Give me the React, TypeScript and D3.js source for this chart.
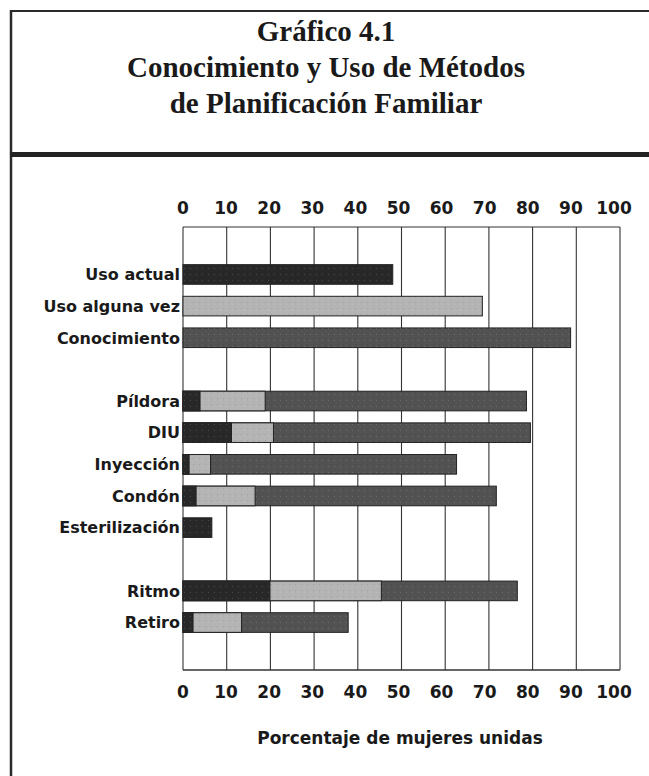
import React from "react";
import * as d3 from "d3";

const categories = [
  "_top",
  "Uso actual",
  "Uso alguna vez",
  "Conocimiento",
  "_gap1",
  "Píldora",
  "DIU",
  "Inyección",
  "Condón",
  "Esterilización",
  "_gap2",
  "Ritmo",
  "Retiro",
  "_bottom",
];

// values per category (null = no bar)
const knowledge: (number | null)[] = [null, null, null, 88.7, null, 78.6, 79.5, 62.6, 71.7, null, null, 76.5, 37.8, null];
const everUse: (number | null)[] = [null, null, 68.5, null, null, 18.8, 20.7, 6.3, 16.5, null, null, 45.4, 13.4, null];
const currentUse: (number | null)[] = [null, 48.0, null, null, null, 3.9, 11.1, 1.4, 3.0, 6.6, null, 19.9, 2.3, null];

const xTicks = [0, 10, 20, 30, 40, 50, 60, 70, 80, 90, 100];
const titleLines = ["Gráfico 4.1", "Conocimiento y Uso de Métodos", "de Planificación Familiar"];
const axisTitle = "Porcentaje de mujeres unidas";

const W = 649;
const H = 776;
const left = 183;
const right = 620;
const top = 227;
const bottom = 670;

const colors = {
  knowledge: "#525252",
  ever: "#b4b4b4",
  current: "#282828",
};

export default function App() {
  const x = d3.scaleLinear().domain([0, 100]).range([left, right]);
  // tick labels in the original sit slightly inside the right end
  const xLab = d3.scaleLinear().domain([0, 100]).range([left, right - 6]);
  const y = d3
    .scaleBand<string>()
    .domain(categories)
    .range([top, bottom])
    .paddingInner(0.38)
    .paddingOuter(0.19);
  const bw = y.bandwidth();
  const labelFont = "'DejaVu Sans', sans-serif";
  const serif = "'Liberation Serif', 'Times New Roman', serif";

  const series: { vals: (number | null)[]; color: string; key: string }[] = [
    { vals: knowledge, color: colors.knowledge, key: "k" },
    { vals: everUse, color: colors.ever, key: "e" },
    { vals: currentUse, color: colors.current, key: "c" },
  ];

  return (
    <svg
      width={W}
      height={H}
      style={{ position: "absolute", left: 0, top: 0, background: "#fff" }}
    >
      <defs>
        <pattern id="noise" width="6" height="6" patternUnits="userSpaceOnUse">
          <rect x="1" y="2" width="1" height="1" fill="#000" opacity="0.12" />
          <rect x="4" y="4" width="1" height="1" fill="#fff" opacity="0.15" />
        </pattern>
      </defs>
      {/* frame */}
      <line x1={11} y1={11} x2={W} y2={11} stroke="#2a2a2a" strokeWidth={2} />
      <line x1={11} y1={10} x2={11} y2={H} stroke="#2a2a2a" strokeWidth={2.5} />
      <line x1={10} y1={154.5} x2={W} y2={154.5} stroke="#222" strokeWidth={5} />
      {/* title */}
      {titleLines.map((t, i) => (
        <text
          key={i}
          x={326}
          y={41 + i * 36}
          textAnchor="middle"
          fontFamily={serif}
          fontWeight="bold"
          fontSize={29}
          fill="#1a1a1a"
        >
          {t}
        </text>
      ))}
      {/* grid lines */}
      {xTicks.map((t) => (
        <line key={"g" + t} x1={x(t)} x2={x(t)} y1={top} y2={bottom} stroke="#333" strokeWidth={1.1} />
      ))}
      <line x1={x(0)} x2={x(100)} y1={top} y2={top} stroke="#333" strokeWidth={1.2} />
      <line x1={x(0)} x2={x(100)} y1={bottom} y2={bottom} stroke="#333" strokeWidth={1.5} />
      {/* bars */}
      {series.map((s) =>
        s.vals.map((v, i) =>
          v == null ? null : (
            <g key={s.key + i}>
              <rect
                x={x(0)}
                y={y(categories[i])!}
                width={x(v) - x(0)}
                height={bw}
                fill={s.color}
                stroke="#222"
                strokeWidth={1}
              />
              <rect x={x(0)} y={y(categories[i])!} width={x(v) - x(0)} height={bw} fill="url(#noise)" />
            </g>
          )
        )
      )}
      {/* category labels */}
      {categories
        .filter((c) => !c.startsWith("_"))
        .map((c) => (
          <text
            key={c}
            x={x(0) - 3}
            y={y(c)! + bw / 2}
            dy="0.36em"
            textAnchor="end"
            fontFamily={labelFont}
            fontWeight="bold"
            fontSize={16}
            fill="#1a1a1a"
          >
            {c}
          </text>
        ))}
      {/* tick labels top and bottom */}
      {xTicks.map((t) => (
        <g key={"t" + t}>
          <text x={xLab(t)} y={208} dy="0.36em" textAnchor="middle" fontFamily={labelFont} fontWeight="bold" fontSize={17} fill="#1a1a1a">
            {t}
          </text>
          <text x={xLab(t)} y={692} dy="0.36em" textAnchor="middle" fontFamily={labelFont} fontWeight="bold" fontSize={17} fill="#1a1a1a">
            {t}
          </text>
        </g>
      ))}
      <text x={400} y={738} dy="0.36em" textAnchor="middle" fontFamily={labelFont} fontWeight="bold" fontSize={17} fill="#1a1a1a">
        {axisTitle}
      </text>
    </svg>
  );
}
